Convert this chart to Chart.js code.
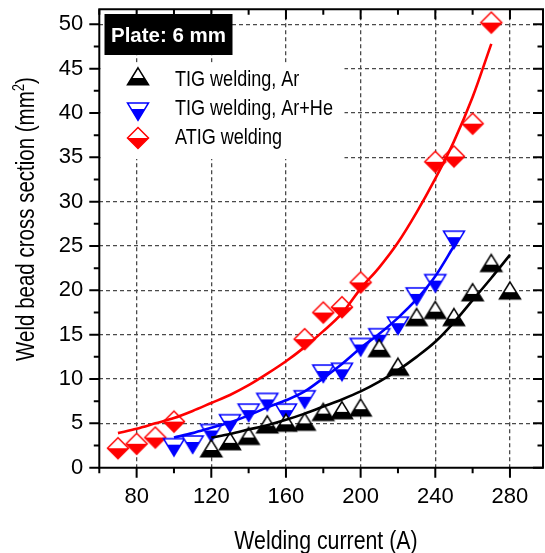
<!DOCTYPE html>
<html>
<head>
<meta charset="utf-8">
<script src="https://cdn.jsdelivr.net/npm/chart.js@4.4.1/dist/chart.umd.min.js"></script>
<style>
  html, body { margin: 0; padding: 0; background: #fff; overflow: hidden; }
  #wrap { width: 545px; height: 553px; overflow: hidden; }
  canvas { display: block; }
</style>
</head>
<body>
<div id="wrap"><canvas id="chart" width="548" height="553"></canvas></div>
<script>
// measured points
const arCurrent = [120, 130, 140, 150, 160, 170, 180, 190, 200, 210, 220, 230, 240, 250, 260, 270, 280];
const arArea = [2.0, 2.8, 3.4, 4.7, 4.9, 5.0, 6.1, 6.3, 6.6, 13.3, 11.2, 16.8, 17.6, 16.8, 19.6, 22.9, 19.8];

const arHeCurrent = [100, 110, 120, 130, 140, 150, 160, 170, 180, 190, 200, 210, 220, 230, 240, 250];
const arHeArea = [2.6, 2.9, 4.2, 5.3, 6.5, 7.7, 6.5, 8.0, 10.9, 11.1, 13.9, 15.0, 16.3, 19.6, 21.1, 26.0];

const atigCurrent = [70, 80, 90, 100, 170, 180, 190, 200, 240, 250, 260, 270];
const atigArea = [2.2, 2.7, 3.4, 5.2, 14.5, 17.5, 18.1, 20.9, 34.5, 35.1, 38.8, 50.2];

// fitted curves, sampled along each line
const arFitCurrent = [120, 130, 140, 150, 160, 170, 180, 190, 200, 210, 220, 230, 240, 250, 260, 270, 280];
const arFitArea = [3.4, 3.8, 4.3, 4.8, 5.4, 6.1, 6.9, 7.7, 8.6, 9.7, 11.0, 12.5, 14.2, 16.4, 18.9, 21.4, 24.0];

const arHeFitCurrent = [100, 110, 120, 130, 140, 150, 160, 170, 180, 190, 200, 210, 220, 230, 240, 250];
const arHeFitArea = [3.4, 3.9, 4.5, 5.1, 5.9, 6.8, 7.6, 8.6, 10.1, 11.7, 13.5, 15.1, 16.9, 19.0, 21.6, 25.0];

const atigFitCurrent = [70, 80, 90, 100, 110, 120, 130, 140, 150, 160, 170, 180, 190, 200, 210, 220, 230, 240, 250, 260, 270];
const atigFitArea = [3.9, 4.4, 5.0, 5.6, 6.4, 7.3, 8.2, 9.3, 10.6, 12.0, 13.6, 15.4, 17.4, 20.2, 22.6, 25.4, 28.8, 32.6, 36.8, 41.8, 47.8];

const xTicks = [80, 120, 160, 200, 240, 280];
const xMinor = [60, 100, 140, 180, 220, 260];
const yTicks = [0, 5, 10, 15, 20, 25, 30, 35, 40, 45, 50];
const yMinor = [2.5, 7.5, 12.5, 17.5, 22.5, 27.5, 32.5, 37.5, 42.5, 47.5];

const seriesLabels = ['TIG welding, Ar', 'TIG welding, Ar+He', 'ATIG welding'];
const seriesColors = ['#000000', '#0000ff', '#ff0000'];
const plateLabel = 'Plate: 6 mm';
const xTitle = 'Welding current (A)';
const yTitle = 'Weld bead cross section (mm';

const SANS = '"Liberation Sans", Arial, sans-serif';
const NARROW = 0.82;

// half-filled marker: white top, coloured below the centre line
function halfMarker(shape, color, w, h, split) {
    const lw = 1.5;
    const above = split * h, below = (1 - split) * h;
    const half = Math.max(above, below) + lw + 1;
    const c = document.createElement('canvas');
    c.width = Math.ceil(w + 2 * lw + 2);
    c.height = Math.ceil(2 * half);
    const g = c.getContext('2d');
    const cx = c.width / 2, cy = c.height / 2;
    const top = cy - above, bot = cy + below;
    g.beginPath();
    if (shape === 'up') {
        g.moveTo(cx, top); g.lineTo(cx + w / 2, bot); g.lineTo(cx - w / 2, bot);
    } else if (shape === 'down') {
        g.moveTo(cx - w / 2, top); g.lineTo(cx + w / 2, top); g.lineTo(cx, bot);
    } else {
        g.moveTo(cx, top); g.lineTo(cx + w / 2, cy); g.lineTo(cx, bot); g.lineTo(cx - w / 2, cy);
    }
    g.closePath();
    g.fillStyle = '#fff';
    g.fill();
    g.save();
    g.clip();
    g.fillStyle = color;
    g.fillRect(0, cy, c.width, c.height);
    g.restore();
    g.lineWidth = lw;
    g.strokeStyle = color;
    g.stroke();
    return c;
}

const markers = [
    halfMarker('up', seriesColors[0], 21, 17, 0.6),
    halfMarker('down', seriesColors[1], 21, 17.5, 0.35),
    halfMarker('diamond', seriesColors[2], 21, 21, 0.5)
];

const pts = (xs, ys) => xs.map((x, i) => ({ x: x, y: ys[i] }));

function narrowText(ctx, text, x, y, size, align) {
    ctx.save();
    ctx.font = size + 'px ' + SANS;
    ctx.translate(x, y);
    ctx.scale(NARROW, 1);
    ctx.textAlign = align || 'left';
    ctx.textBaseline = 'alphabetic';
    ctx.fillText(text, 0, 0);
    ctx.restore();
}

const framePlugin = {
    id: 'frame',
    afterDraw(chart) {
        const ctx = chart.ctx;
        const a = chart.chartArea;
        const xs = chart.scales.x, ys = chart.scales.y;

        // legend
        ctx.fillStyle = '#fff';
        ctx.fillRect(100.5, 62.5, 244, 96.5);
        const rows = [78.4, 109, 137.5];
        const base = [85.5, 114.5, 143.5];
        seriesLabels.forEach((label, i) => {
            const m = markers[i];
            ctx.drawImage(m, Math.round(137.5 - m.width / 2), Math.round(rows[i] - m.height / 2));
            ctx.fillStyle = '#000';
            narrowText(ctx, label, 175, base[i], 22, 'left');
        });

        // plate label
        ctx.fillStyle = '#000';
        ctx.fillRect(104.5, 14, 128, 41);
        ctx.fillStyle = '#fff';
        ctx.font = 'bold 20.5px ' + SANS;
        ctx.textAlign = 'center';
        ctx.textBaseline = 'alphabetic';
        ctx.fillText(plateLabel, 168.5, 41.7);

        // frame lines
        ctx.strokeStyle = '#000';
        ctx.lineWidth = 2;
        ctx.beginPath();
        ctx.moveTo(a.left, a.top); ctx.lineTo(a.right, a.top);
        ctx.moveTo(a.left, a.bottom); ctx.lineTo(a.right, a.bottom);
        ctx.moveTo(a.left, a.top - 1); ctx.lineTo(a.left, a.bottom + 1);
        ctx.moveTo(a.right, a.top - 1); ctx.lineTo(a.right, a.bottom + 1);
        ctx.stroke();

        // tick marks: outward on bottom/left, inward on top/right
        const tickX = (vals, len) => {
            ctx.beginPath();
            vals.forEach(v => {
                const p = xs.getPixelForValue(v);
                ctx.moveTo(p, a.bottom); ctx.lineTo(p, a.bottom + len);
                ctx.moveTo(p, a.top); ctx.lineTo(p, a.top + len);
            });
            ctx.stroke();
        };
        const tickY = (vals, len) => {
            ctx.beginPath();
            vals.forEach(v => {
                const p = ys.getPixelForValue(v);
                ctx.moveTo(a.left, p); ctx.lineTo(a.left - len, p);
                ctx.moveTo(a.right, p); ctx.lineTo(a.right - len, p);
            });
            ctx.stroke();
        };
        tickX(xTicks, 10);
        tickX(xMinor, 5.5);
        tickY(yTicks, 10);
        tickY(yMinor, 5.5);

        // axis titles
        ctx.fillStyle = '#000';
        narrowText(ctx, xTitle, 326, 549, 26, 'center');

        ctx.save();
        ctx.translate(34, 219);
        ctx.rotate(-Math.PI / 2);
        ctx.scale(NARROW, 1);
        ctx.textBaseline = 'alphabetic';
        ctx.textAlign = 'left';
        ctx.font = '25px ' + SANS;
        const w1 = ctx.measureText(yTitle).width;
        const w3 = ctx.measureText(')').width;
        ctx.font = '16px ' + SANS;
        const w2 = ctx.measureText('2').width;
        const start = -(w1 + w2 + w3) / 2;
        ctx.font = '25px ' + SANS;
        ctx.fillText(yTitle, start, 0);
        ctx.font = '16px ' + SANS;
        ctx.fillText('2', start + w1, -10);
        ctx.font = '25px ' + SANS;
        ctx.fillText(')', start + w1 + w2, 0);
        ctx.restore();
    }
};

const gridColor = '#4a4a4a';

new Chart(document.getElementById('chart'), {
    type: 'scatter',
    data: {
        datasets: [
            { type: 'line', data: pts(arFitCurrent, arFitArea), borderColor: seriesColors[0], borderWidth: 2.6, pointRadius: 0, cubicInterpolationMode: 'monotone', order: 0 },
            { type: 'line', data: pts(arHeFitCurrent, arHeFitArea), borderColor: seriesColors[1], borderWidth: 2.6, pointRadius: 0, cubicInterpolationMode: 'monotone', order: 0 },
            { type: 'line', data: pts(atigFitCurrent, atigFitArea), borderColor: seriesColors[2], borderWidth: 2.6, pointRadius: 0, cubicInterpolationMode: 'monotone', order: 0 },
            { label: seriesLabels[0], data: pts(arCurrent, arArea), pointStyle: markers[0], order: 1 },
            { label: seriesLabels[1], data: pts(arHeCurrent, arHeArea), pointStyle: markers[1], order: 1 },
            { label: seriesLabels[2], data: pts(atigCurrent, atigArea), pointStyle: markers[2], order: 1 }
        ]
    },
    options: {
        responsive: false,
        animation: false,
        events: [],
        layout: { padding: { top: 9.3, right: 0, left: 0, bottom: 0 } },
        plugins: { legend: { display: false }, tooltip: { enabled: false } },
        scales: {
            x: {
                type: 'linear',
                min: 60,
                max: 297.7,
                afterFit(s) { s.height = 553 - 467.7; s.paddingLeft = 0; s.paddingRight = 0; },
                afterBuildTicks(s) { s.ticks = xTicks.map(v => ({ value: v })); },
                grid: { color: gridColor, lineWidth: 1.3, drawTicks: false },
                border: { display: false, dash: [4, 3] },
                ticks: { font: { family: SANS, size: 22 }, color: '#000', padding: 16, maxRotation: 0, autoSkip: false }
            },
            y: {
                type: 'linear',
                min: 0,
                max: 51.7,
                afterFit(s) { s.width = 99.3; s.paddingTop = 0; s.paddingBottom = 0; },
                afterBuildTicks(s) { s.ticks = yTicks.map(v => ({ value: v })); },
                grid: { color: ctx => ctx.tick && ctx.tick.value === 0 ? 'rgba(0,0,0,0)' : gridColor, lineWidth: 1.3, drawTicks: false },
                border: { display: false, dash: [4, 3] },
                ticks: { font: { family: SANS, size: 22 }, color: '#000', padding: 16, autoSkip: false }
            }
        }
    },
    plugins: [framePlugin]
});
</script>
</body>
</html>
